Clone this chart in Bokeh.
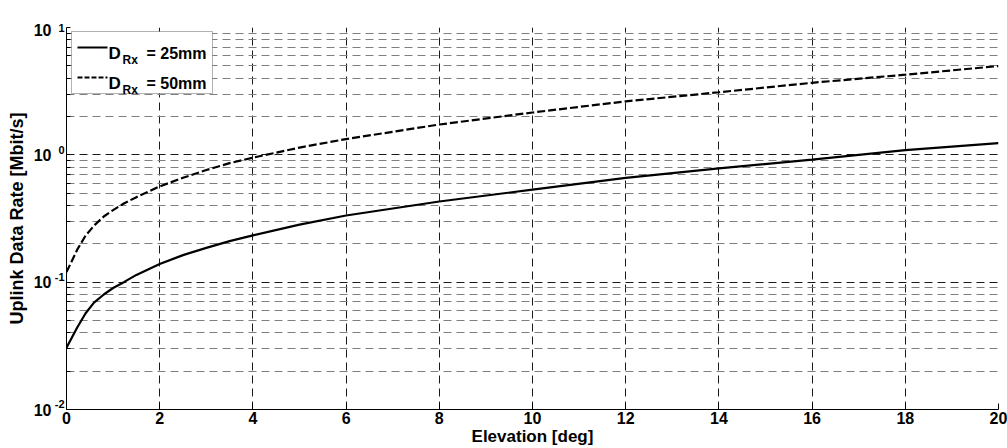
from bokeh.plotting import figure
from bokeh.models import FixedTicker, Label, BoxAnnotation, Arrow, Range1d, LogAxis
from bokeh.embed import file_html
from bokeh.resources import INLINE

# ---- data ----
elevation_25 = [0, 0.23, 0.41, 0.59, 0.8, 1.0, 1.23, 1.5, 2, 2.5, 3, 3.5, 4, 5, 6, 8, 10, 12, 14, 16, 18, 20]
rate_25mm = [0.0306, 0.044, 0.057, 0.0690, 0.080, 0.090, 0.100, 0.114, 0.139, 0.163, 0.186, 0.210,
             0.233, 0.283, 0.334, 0.430, 0.533, 0.659, 0.784, 0.917, 1.09, 1.236]
elevation_50 = [0, 0.23, 0.41, 0.59, 0.8, 1.0, 1.23, 1.5, 2, 2.5, 3, 3.5, 4, 5, 6, 8, 10, 12, 14, 16, 18, 20]
rate_50mm = [0.120, 0.180, 0.232, 0.278, 0.328, 0.368, 0.415, 0.465, 0.565, 0.660, 0.760, 0.860,
             0.950, 1.14, 1.33, 1.73, 2.15, 2.63, 3.10, 3.68, 4.26, 4.98]

x_ticks = [0, 2, 4, 6, 8, 10, 12, 14, 16, 18, 20]
y_major = [0.01, 0.1, 1, 10]
y_minor = [m * d for d in (0.01, 0.1, 1) for m in (2, 3, 4, 5, 6, 7, 8, 9)]
# tick label "10^e": mantissa and exponent placed at slightly different heights
y_mantissa_pos = [0.01, 0.1, 1, 9.6]
y_exponent_pos = [0.011, 0.11, 1.1, 10]
y_exponents = ["-2", "-1", "0", "1"]
legend_names = ["25mm", "50mm"]
x_label = "Elevation [deg]"
y_label = "Uplink Data Rate [Mbit/s]"

FONT = "Liberation Sans"

p = figure(width=1007, height=448, output_backend="svg", toolbar_location=None,
           y_axis_type="log", x_range=Range1d(0, 20), y_range=Range1d(0.01, 10),
           min_border_left=66, min_border_right=9, min_border_top=27, min_border_bottom=39,
           background_fill_color="white", border_fill_color="white")
p.outline_line_color = None

yt = FixedTicker(ticks=y_major, minor_ticks=y_minor)
xt = FixedTicker(ticks=x_ticks, minor_ticks=[])

# inner left axis: spine, tick marks and the exponents
ya = p.yaxis[0]
ya.ticker = FixedTicker(ticks=y_exponent_pos, minor_ticks=y_major + y_minor)
ya.major_label_overrides = dict(zip(y_exponent_pos, y_exponents))
ya.axis_line_color = "black"
ya.axis_line_width = 1
ya.major_tick_in = 0
ya.major_tick_out = 0
ya.minor_tick_in = 4
ya.minor_tick_out = 0
ya.minor_tick_line_color = "black"
ya.major_label_standoff = 2
ya.major_label_text_font = FONT
ya.major_label_text_font_style = "bold"
ya.major_label_text_font_size = "11px"
ya.major_label_text_color = "black"

# outer left axis: the "10" mantissas and the axis title
ym = LogAxis(ticker=FixedTicker(ticks=y_mantissa_pos, minor_ticks=[]),
             major_label_overrides={v: "10" for v in y_mantissa_pos},
             axis_line_color=None, major_tick_in=0, major_tick_out=0,
             minor_tick_in=0, minor_tick_out=0, major_label_standoff=0,
             major_label_text_font=FONT, major_label_text_font_style="bold",
             major_label_text_font_size="16px", major_label_text_color="black",
             axis_label=y_label, axis_label_text_font=FONT,
             axis_label_text_font_style="bold", axis_label_text_font_size="18px",
             axis_label_text_color="black", axis_label_standoff=4)
p.add_layout(ym, "left")

# bottom axis
xa = p.xaxis[0]
xa.ticker = xt
xa.axis_line_color = "black"
xa.major_tick_in = 6
xa.major_tick_out = 0
xa.minor_tick_in = 0
xa.minor_tick_out = 0
xa.major_tick_line_color = "black"
xa.major_label_standoff = 2
xa.major_label_text_font = FONT
xa.major_label_text_font_style = "bold"
xa.major_label_text_font_size = "16px"
xa.major_label_text_color = "black"
xa.axis_label = x_label
xa.axis_label_text_font = FONT
xa.axis_label_text_font_style = "bold"
xa.axis_label_text_font_size = "17px"
xa.axis_label_text_color = "black"
xa.axis_label_standoff = 0

# grids
p.xgrid.ticker = xt
p.xgrid.grid_line_color = "#1a1a1a"
p.xgrid.grid_line_dash = "8 5"
p.xgrid.grid_line_width = 1
p.ygrid.ticker = yt
p.ygrid.grid_line_color = "#1a1a1a"
p.ygrid.grid_line_dash = "8 5"
p.ygrid.minor_grid_line_color = "#7f7f7f"
p.ygrid.minor_grid_line_dash = "8 5"
p.ygrid.minor_grid_line_width = 1

# curves
p.line(elevation_25, rate_25mm, line_color="black", line_width=2.2)
p.line(elevation_50, rate_50mm, line_color="black", line_width=2.2, line_dash="8 3")

# legend (built from annotations, to allow the subscript)
box = BoxAnnotation(left=5, right=146, top=378, bottom=316,
                    left_units="screen", right_units="screen",
                    top_units="screen", bottom_units="screen",
                    fill_color="white", fill_alpha=1, line_color="black", line_width=1)
p.add_layout(box)
for i, name in enumerate(legend_names):
    yb = 356 - 30 * i
    ln = Arrow(x_start=11, y_start=yb + 6, x_end=41, y_end=yb + 6,
               start_units="screen", end_units="screen", start=None, end=None,
               line_color="black", line_width=1.8)
    if i == 1:
        ln.line_dash = "5 2"
    p.add_layout(ln)
    p.add_layout(Label(x=42, y=yb, x_units="screen", y_units="screen", text="D",
                       text_font=FONT, text_font_style="bold", text_font_size="17px",
                       text_baseline="alphabetic", text_color="black"))
    p.add_layout(Label(x=56, y=yb - 6, x_units="screen", y_units="screen", text="Rx",
                       text_font=FONT, text_font_style="bold", text_font_size="12px",
                       text_baseline="alphabetic", text_color="black"))
    p.add_layout(Label(x=80, y=yb, x_units="screen", y_units="screen", text="= " + name,
                       text_font=FONT, text_font_style="bold", text_font_size="16px",
                       text_baseline="alphabetic", text_color="black"))

open("out.html", "w").write(file_html(p, INLINE))
